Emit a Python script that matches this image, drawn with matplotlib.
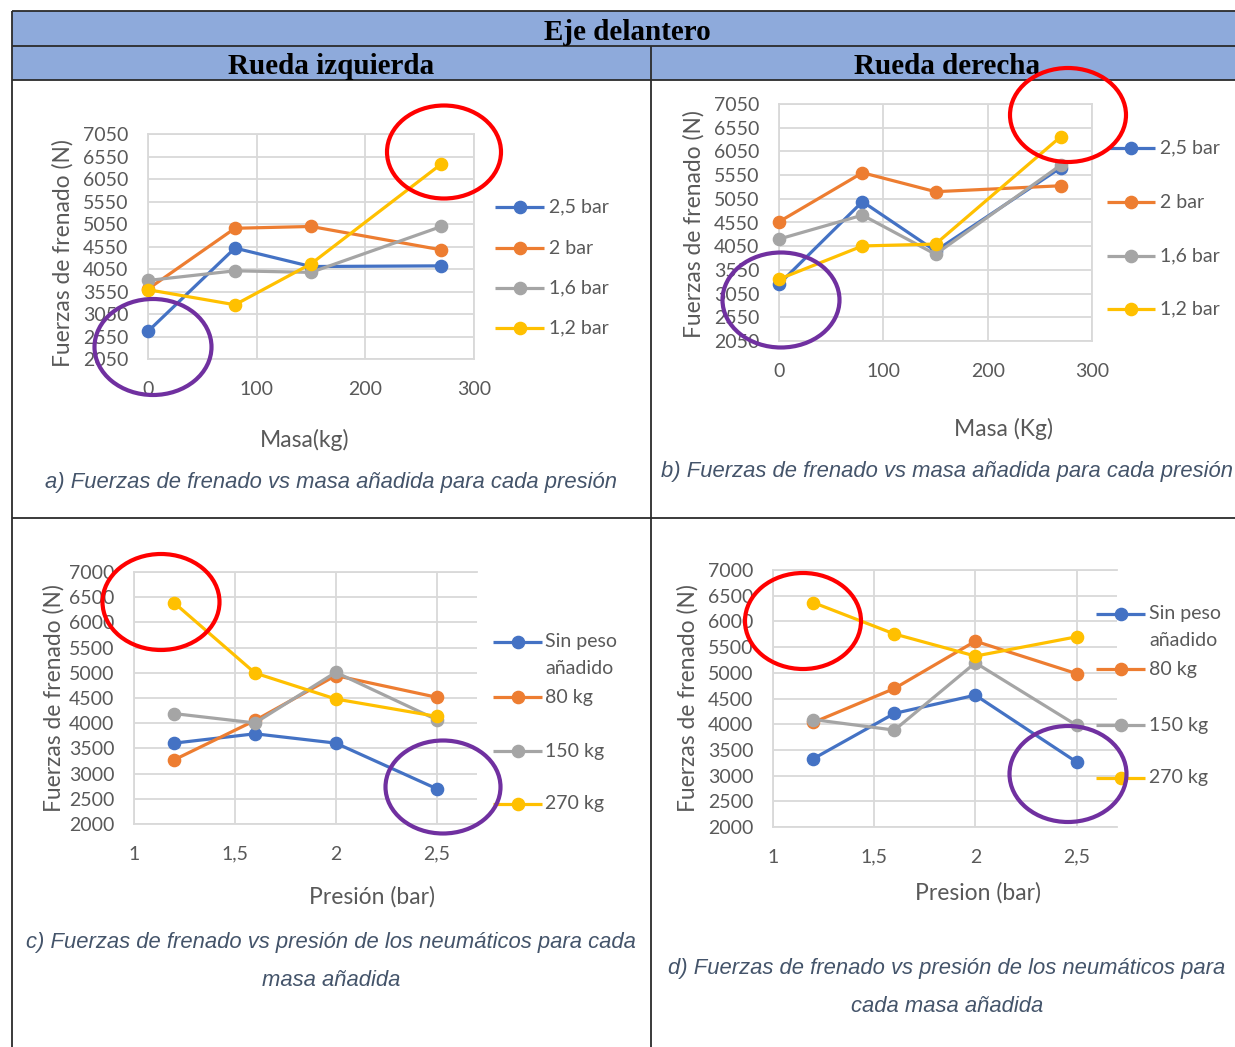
import matplotlib
matplotlib.use("Agg")
import matplotlib.pyplot as plt
from matplotlib.patches import Ellipse, Rectangle

# ---- data -------------------------------------------------------------
masas = [0, 80, 150, 270]
presiones = [1.2, 1.6, 2, 2.5]

etiquetas_presion = ["2,5 bar", "2 bar", "1,6 bar", "1,2 bar"]
etiquetas_masa = ["Sin peso\nañadido", "80 kg", "150 kg", "270 kg"]

# Rueda izquierda: fuerza (N) frente a masa, una serie por presión
izq_25 = [2665, 4515, 4105, 4120]
izq_20 = [3605, 4955, 4995, 4475]
izq_16 = [3795, 4010, 3975, 4995]
izq_12 = [3590, 3255, 4165, 6385]

# Rueda derecha: fuerza (N) frente a masa, una serie por presión
der_25 = [3250, 4990, 3950, 5705]
der_20 = [4565, 5600, 5200, 5325]
der_16 = [4200, 4705, 3880, 5760]
der_12 = [3355, 4055, 4095, 6360]

# Rueda izquierda: fuerza (N) frente a presión, una serie por masa
izq_m0 = [3605, 3790, 3605, 2700]
izq_m80 = [3275, 4055, 4945, 4515]
izq_m150 = [4190, 4005, 5010, 4070]
izq_m270 = [6385, 4995, 4480, 4135]

# Rueda derecha: fuerza (N) frente a presión, una serie por masa
der_m0 = [3330, 4210, 4565, 3265]
der_m80 = [4035, 4695, 5615, 4985]
der_m150 = [4090, 3885, 5195, 3980]
der_m270 = [6365, 5755, 5325, 5700]

ticks_masa = [0, 100, 200, 300]
ticks_presion = [1, 1.5, 2, 2.5]
etiq_ticks_presion = ["1", "1,5", "2", "2,5"]
ticks_y_masa = list(range(2050, 7051, 500))
ticks_y_presion = list(range(2000, 7001, 500))

COLORES = ["#4472C4", "#ED7D31", "#A5A5A5", "#FFC000"]
GRIS_TXT = "#595959"
GRID = "#D9D9D9"
AXFONT = "Lato"

W, H = 1235, 1047
fig = plt.figure(figsize=(W / 100, H / 100), dpi=100)
fig.patch.set_facecolor("white")


def px_axes(l, t, r, b):
    return fig.add_axes([l / W, 1 - b / H, (r - l) / W, (b - t) / H])


def grafico(box, x, series, xlim, xticks, xticklabels, ylim, yticks,
            xlabel, xlabel_px, ylabel_px, right_spine):
    l, t, r, b = box
    ax = px_axes(l, t, r, b)
    for ys, c in zip(series, COLORES):
        ax.plot(x, ys, color=c, lw=2.3, marker="o", ms=8.8, mfc=c, mec=c,
                clip_on=False, zorder=3)
    ax.set_xlim(*xlim)
    ax.set_ylim(*ylim)
    ax.set_xticks(xticks)
    ax.set_xticklabels(xticklabels)
    ax.set_yticks(yticks)
    ax.grid(True, color=GRID, lw=1.3)
    ax.set_axisbelow(True)
    ax.tick_params(length=0, pad=14, labelsize=14, labelcolor=GRIS_TXT)
    ax.tick_params(axis="x", pad=15.5)
    for lab in ax.get_xticklabels() + ax.get_yticklabels():
        lab.set_family(AXFONT)
    for s in ["left", "bottom", "top"]:
        ax.spines[s].set_color(GRID)
        ax.spines[s].set_linewidth(1.3)
    ax.spines["right"].set_visible(right_spine)
    ax.spines["right"].set_color(GRID)
    ax.spines["right"].set_linewidth(1.3)
    ax.set_ylabel("Fuerzas de frenado (N)", fontsize=16.4, color=GRIS_TXT,
                  family=AXFONT, va="center")
    ax.yaxis.set_label_coords((ylabel_px[0] - l) / (r - l),
                              (b - ylabel_px[1]) / (b - t))
    ax.set_xlabel(xlabel, fontsize=16.5, color=GRIS_TXT, family=AXFONT,
                  va="center")
    ax.xaxis.set_label_coords((xlabel_px[0] - l) / (r - l),
                              (b - xlabel_px[1]) / (b - t))
    return ax


grafico((148, 134, 474, 359), masas, [izq_25, izq_20, izq_16, izq_12],
        (0, 300), ticks_masa, [str(v) for v in ticks_masa],
        (2050, 7050), ticks_y_masa, "Masa(kg)", (305, 440), (63, 253), True)
grafico((779, 104, 1092, 341), masas, [der_25, der_20, der_16, der_12],
        (0, 300), ticks_masa, [str(v) for v in ticks_masa],
        (2050, 7050), ticks_y_masa, "Masa (Kg)", (1003, 429), (694, 224), True)
grafico((134, 572, 477, 824), presiones, [izq_m0, izq_m80, izq_m150, izq_m270],
        (1, 2.7), ticks_presion, etiq_ticks_presion,
        (2000, 7000), ticks_y_presion, "Presión (bar)", (372, 897), (54, 698), False)
grafico((773, 570, 1117, 827), presiones, [der_m0, der_m80, der_m150, der_m270],
        (1, 2.7), ticks_presion, etiq_ticks_presion,
        (2000, 7000), ticks_y_presion, "Presion (bar)", (978, 893), (688, 698), False)

# ---- overlay in pixel coordinates: table, legends, captions, highlights ----
ov = fig.add_axes([0, 0, 1, 1], zorder=10)
ov.set_xlim(0, W)
ov.set_ylim(H, 0)
ov.axis("off")
ov.patch.set_visible(False)

XL, XR, XM = 12, 1243, 651
Y0, Y1, Y2, Y3 = 11, 46, 80, 518
ov.add_patch(Rectangle((XL, Y0), XR - XL, Y2 - Y0, facecolor="#8EAADB",
                       edgecolor="none", zorder=0))
LINE = dict(color="#2b2b2b", lw=1.3, solid_capstyle="butt", zorder=1)
for y in (Y0, Y1, Y2, Y3):
    ov.plot([XL, XR], [y, y], **LINE)
ov.plot([XL, XL], [Y0, H + 5], **LINE)
ov.plot([XM, XM], [Y1, H + 5], **LINE)

HEAD = dict(family="Liberation Serif", weight="bold", fontsize=21,
            color="black", ha="center", va="center")
ov.text((XL + XR) / 2, 32, "Eje delantero", **HEAD)
ov.text((XL + XM) / 2, 67, "Rueda izquierda", **HEAD)
ov.text((XM + XR) / 2, 67, "Rueda derecha", **HEAD)

CAP = dict(family="Liberation Sans", style="italic", fontsize=15.8,
           color="#44546A", ha="center", va="center")
ov.text(331, 482.5, "a) Fuerzas de frenado vs masa añadida para cada presión", **CAP)
ov.text(947, 471.5, "b) Fuerzas de frenado vs masa añadida para cada presión", **CAP)
ov.text(331, 942.5, "c) Fuerzas de frenado vs presión de los neumáticos para cada", **CAP)
ov.text(331, 980.5, "masa añadida", **CAP)
ov.text(947, 968.5, "d) Fuerzas de frenado vs presión de los neumáticos para", **CAP)
ov.text(947, 1006.5, "cada masa añadida", **CAP)


def leyenda(x0, x1, xt, filas):
    for label, color, y in filas:
        ov.plot([x0, x1], [y, y], color=color, lw=2.3, solid_capstyle="butt")
        ov.plot([(x0 + x1) / 2], [y], marker="o", ms=8.8, color=color)
        lineas = label.split("\n")
        for k, txt in enumerate(lineas):
            ov.text(xt, y + 26.5 * k, txt, fontsize=14, family=AXFONT,
                    color=GRIS_TXT, ha="left", va="center")


leyenda(495, 544, 549, list(zip(etiquetas_presion, COLORES, [207, 248, 288, 328])))
leyenda(1107, 1155, 1160, list(zip(etiquetas_presion, COLORES, [148, 202, 256, 309])))
leyenda(493, 542, 545, list(zip(etiquetas_masa, COLORES, [642, 697, 751, 804])))
leyenda(1096, 1145, 1149, list(zip(etiquetas_masa, COLORES, [614, 669, 725, 778])))

# highlight rings
ROJO, MORADO = "#FF0000", "#7030A0"
for (cx, cy, w, h, c) in [(444, 152, 114, 93, ROJO), (153, 347, 117, 96, MORADO),
                          (1068, 115, 116, 94, ROJO), (781, 300, 117, 95, MORADO),
                          (161, 602, 117, 96, ROJO), (443, 787, 115, 93, MORADO),
                          (803, 621, 116, 96, ROJO), (1068, 774, 117, 96, MORADO)]:
    ov.add_patch(Ellipse((cx, cy), w, h, fill=False, edgecolor=c, lw=3, zorder=5))

fig.savefig("out.png", dpi=100)
